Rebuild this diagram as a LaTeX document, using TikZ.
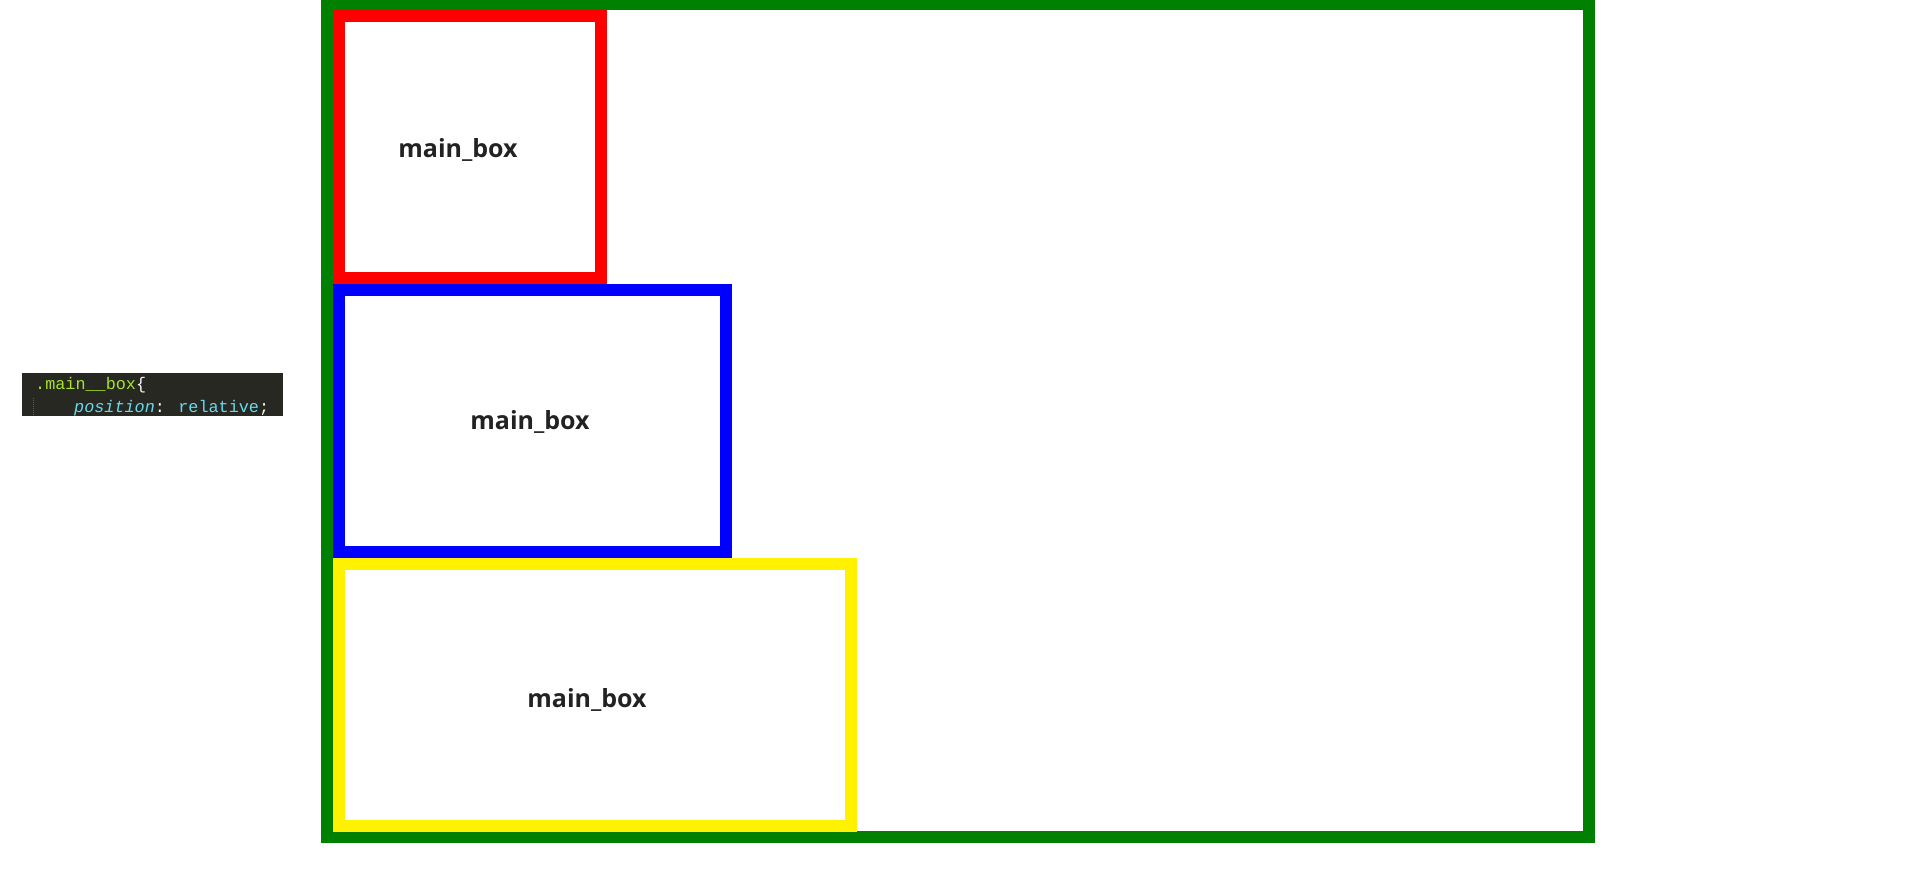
\documentclass[tikz,border=0pt]{standalone}
\usepackage{fontspec}
\usepackage{tikz}
\usetikzlibrary{positioning}
\newfontfamily\labelfont{Open Sans}
\newfontfamily\codefont{Liberation Mono}
\definecolor{cssgreen}{HTML}{008000}
\definecolor{codebg}{HTML}{272822}
\definecolor{codegreen}{HTML}{A6E22E}
\definecolor{codecyan}{HTML}{66D9EF}
\definecolor{codewhite}{HTML}{F8F8F2}
\definecolor{codeguide}{HTML}{5A5B55}
\definecolor{labelgray}{HTML}{222222}
\tikzset{
    mainbox/.style={draw, rectangle, line width=12pt, minimum height=262pt, inner sep=0pt},
    boxlabel/.style={anchor=base, inner sep=0pt, text=labelgray, font=\labelfont\bfseries\fontsize{25}{30}\selectfont},
    codeline/.style={anchor=base west, inner sep=0pt, font=\codefont\fontsize{16.8}{20}\selectfont},
}

\begin{document}
\begin{tikzpicture}[x=1pt, y=-1pt, node distance=0pt]
    \useasboundingbox (0,0) rectangle (1917,877);

    \node[draw=cssgreen, rectangle, line width=12pt, minimum width=1262pt, minimum height=833pt, anchor=north west] (wrapper) at (321,-2) {};
    \node[mainbox, draw=red, minimum width=262pt, anchor=north west] (redbox) at (333,10) {};
    \node[mainbox, draw=blue, minimum width=387pt, below=of redbox.south west, anchor=north west] (bluebox) {};
    \node[mainbox, draw=yellow, minimum width=512pt, below=of bluebox.south west, anchor=north west] (yellowbox) {};

    \node[boxlabel] (redlabel) at (458,158) {main\_box};
    \node[boxlabel] (bluelabel) at (530,429) {main\_box};
    \node[boxlabel] (yellowlabel) at (587,707) {main\_box};

    % css snippet
    \node[fill=codebg, rectangle, minimum width=261pt, minimum height=43pt, inner sep=0pt, anchor=north west] (codeblock) at (22,373) {};
    \node[codeline, text=codegreen] (selector) at (35,389) {.main\_\_box\textcolor{codewhite}{\{}};
    \node[codeline, text=codecyan] (declaration) at (74,412) {{\itshape position}\textcolor{codewhite}{:} relative\textcolor{codewhite}{;}};
    \draw[codeguide, densely dotted, line width=1pt] (33,398) -- (33,416);
\end{tikzpicture}
\end{document}
